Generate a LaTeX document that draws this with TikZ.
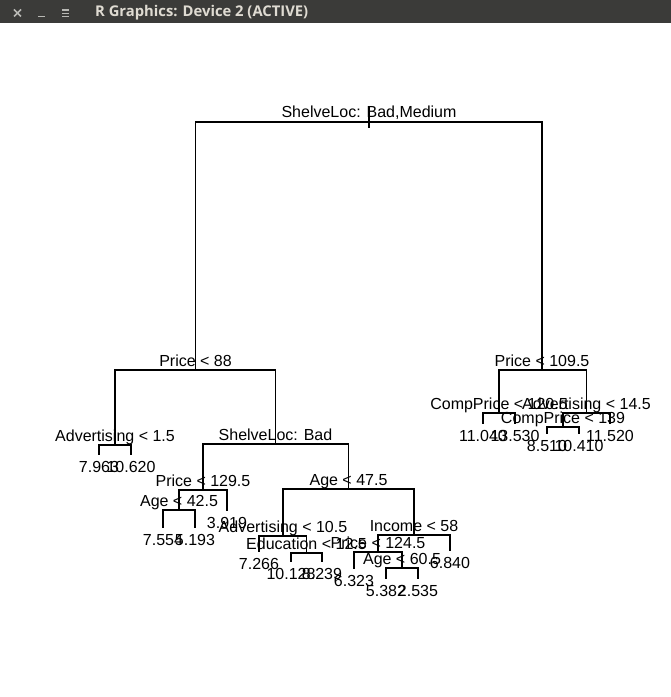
\documentclass[tikz,border=0pt]{standalone}
\usepackage{fontspec}
\usepackage{graphicx}
\setmainfont{Liberation Sans}
\newfontfamily\titlefont{Open Sans}
\definecolor{barbg}{HTML}{3B3B39}
\definecolor{bartext}{HTML}{DFDBD2}
\definecolor{baricon}{HTML}{B8B8B4}
\begin{document}
\begin{tikzpicture}[x=1bp,y=-1bp,
  edge/.style={line width=1.1bp, black},
  lbl/.style={inner sep=0pt, font=\fontsize{16bp}{19bp}\selectfont, text=black},
  split/.style={lbl, anchor=base, yshift=4bp},
  leaf/.style={lbl, anchor=base, yshift=-17bp},
  icon/.style={line width=1.6bp, baricon}]
\useasboundingbox (0,0) rectangle (671,697);
\fill[white] (0,0) rectangle (671,697);
% title bar
\fill[barbg] (0,0) rectangle (671,23);
\draw[icon] (14,9.5) -- (21,16.5) (21,9.5) -- (14,16.5);
\draw[icon] (38,16.5) -- (45,16.5);
\fill[baricon] (62,9.5) rectangle (69,11.5);
\draw[baricon, line width=1.2bp] (62,13.5) -- (69,13.5) (62,16.5) -- (69,16.5);
\node[anchor=west, inner sep=0pt, text=bartext] (title) at (95,12.5)
  {\resizebox{213bp}{!}{\titlefont\bfseries R Graphics: Device 2 (ACTIVE)}};

% internal nodes
\coordinate (n0) at (369,122);
\coordinate (n1) at (195.5,370);
\coordinate (n2) at (115,445);
\coordinate (n3) at (275.5,444);
\coordinate (n4) at (203,490);
\coordinate (n5) at (179,510);
\coordinate (n6) at (348.5,489);
\coordinate (n7) at (283,536);
\coordinate (n8) at (306.5,553);
\coordinate (n9) at (414,535);
\coordinate (n10) at (378,552);
\coordinate (n11) at (402,568);
\coordinate (n12) at (542,370);
\coordinate (n13) at (499,413);
\coordinate (n14) at (586.5,413);
\coordinate (n15) at (563,427);
% leaves
\coordinate (l1) at (99,455);
\coordinate (l2) at (131,455);
\coordinate (l3) at (163,528);
\coordinate (l4) at (195,528);
\coordinate (l5) at (227,511);
\coordinate (l6) at (259,552);
\coordinate (l7) at (291,562);
\coordinate (l8) at (322,562);
\coordinate (l9) at (354,569);
\coordinate (l10) at (386,579);
\coordinate (l11) at (418,579);
\coordinate (l12) at (450,551);
\coordinate (l13) at (483,424);
\coordinate (l14) at (515,424);
\coordinate (l15) at (547,434);
\coordinate (l16) at (579,434);
\coordinate (l17) at (610,424);
\coordinate (rtop) at (369,107);
\coordinate (rbot) at (369,128);

% connectors
\draw[edge] (rtop) -- (rbot);
\draw[edge] (n0) -| (n1);  \draw[edge] (n0) -| (n12);
\draw[edge] (n1) -| (n2);  \draw[edge] (n1) -| (n3);
\draw[edge] (n2) -| (l1);  \draw[edge] (n2) -| (l2);
\draw[edge] (n3) -| (n4);  \draw[edge] (n3) -| (n6);
\draw[edge] (n4) -| (n5);  \draw[edge] (n4) -| (l5);
\draw[edge] (n5) -| (l3);  \draw[edge] (n5) -| (l4);
\draw[edge] (n6) -| (n7);  \draw[edge] (n6) -| (n9);
\draw[edge] (n7) -| (l6);  \draw[edge] (n7) -| (n8);
\draw[edge] (n8) -| (l7);  \draw[edge] (n8) -| (l8);
\draw[edge] (n9) -| (n10); \draw[edge] (n9) -| (l12);
\draw[edge] (n10) -| (l9); \draw[edge] (n10) -| (n11);
\draw[edge] (n11) -| (l10); \draw[edge] (n11) -| (l11);
\draw[edge] (n12) -| (n13); \draw[edge] (n12) -| (n14);
\draw[edge] (n13) -| (l13); \draw[edge] (n13) -| (l14);
\draw[edge] (n14) -| (n15); \draw[edge] (n14) -| (l17);
\draw[edge] (n15) -| (l15); \draw[edge] (n15) -| (l16);

% split labels
\node[split] (t0) at (n0) {ShelveLoc: Bad,Medium};
\node[split] (t1) at (n1) {Price < 88};
\node[split] (t2) at (n2) {Advertising < 1.5};
\node[split] (t3) at (n3) {ShelveLoc: Bad};
\node[split] (t4) at (n4) {Price < 129.5};
\node[split] (t5) at (n5) {Age < 42.5};
\node[split] (t6) at (n6) {Age < 47.5};
\node[split] (t7) at (n7) {Advertising < 10.5};
\node[split] (t8) at (n8) {Education < 12.5};
\node[split] (t9) at (n9) {Income < 58};
\node[split] (t10) at (n10) {Price < 124.5};
\node[split] (t11) at (n11) {Age < 60.5};
\node[split] (t12) at (n12) {Price < 109.5};
\node[split] (t13) at (n13) {CompPrice < 120.5};
\node[split] (t14) at (n14) {Advertising < 14.5};
\node[split] (t15) at (n15) {CompPrice < 139};
% leaf labels
\node[leaf] (v1) at (l1) {7.963};
\node[leaf] (v2) at (l2) {10.620};
\node[leaf] (v3) at (l3) {7.554};
\node[leaf] (v4) at (l4) {5.193};
\node[leaf] (v5) at (l5) {3.919};
\node[leaf] (v6) at (l6) {7.266};
\node[leaf] (v7) at (l7) {10.128};
\node[leaf] (v8) at (l8) {8.239};
\node[leaf] (v9) at (l9) {6.323};
\node[leaf] (v10) at (l10) {5.382};
\node[leaf] (v11) at (l11) {2.535};
\node[leaf] (v12) at (l12) {6.840};
\node[leaf] (v13) at (l13) {11.040};
\node[leaf] (v14) at (l14) {13.530};
\node[leaf] (v15) at (l15) {8.510};
\node[leaf] (v16) at (l16) {10.410};
\node[leaf] (v17) at (l17) {11.520};
\end{tikzpicture}
\end{document}
